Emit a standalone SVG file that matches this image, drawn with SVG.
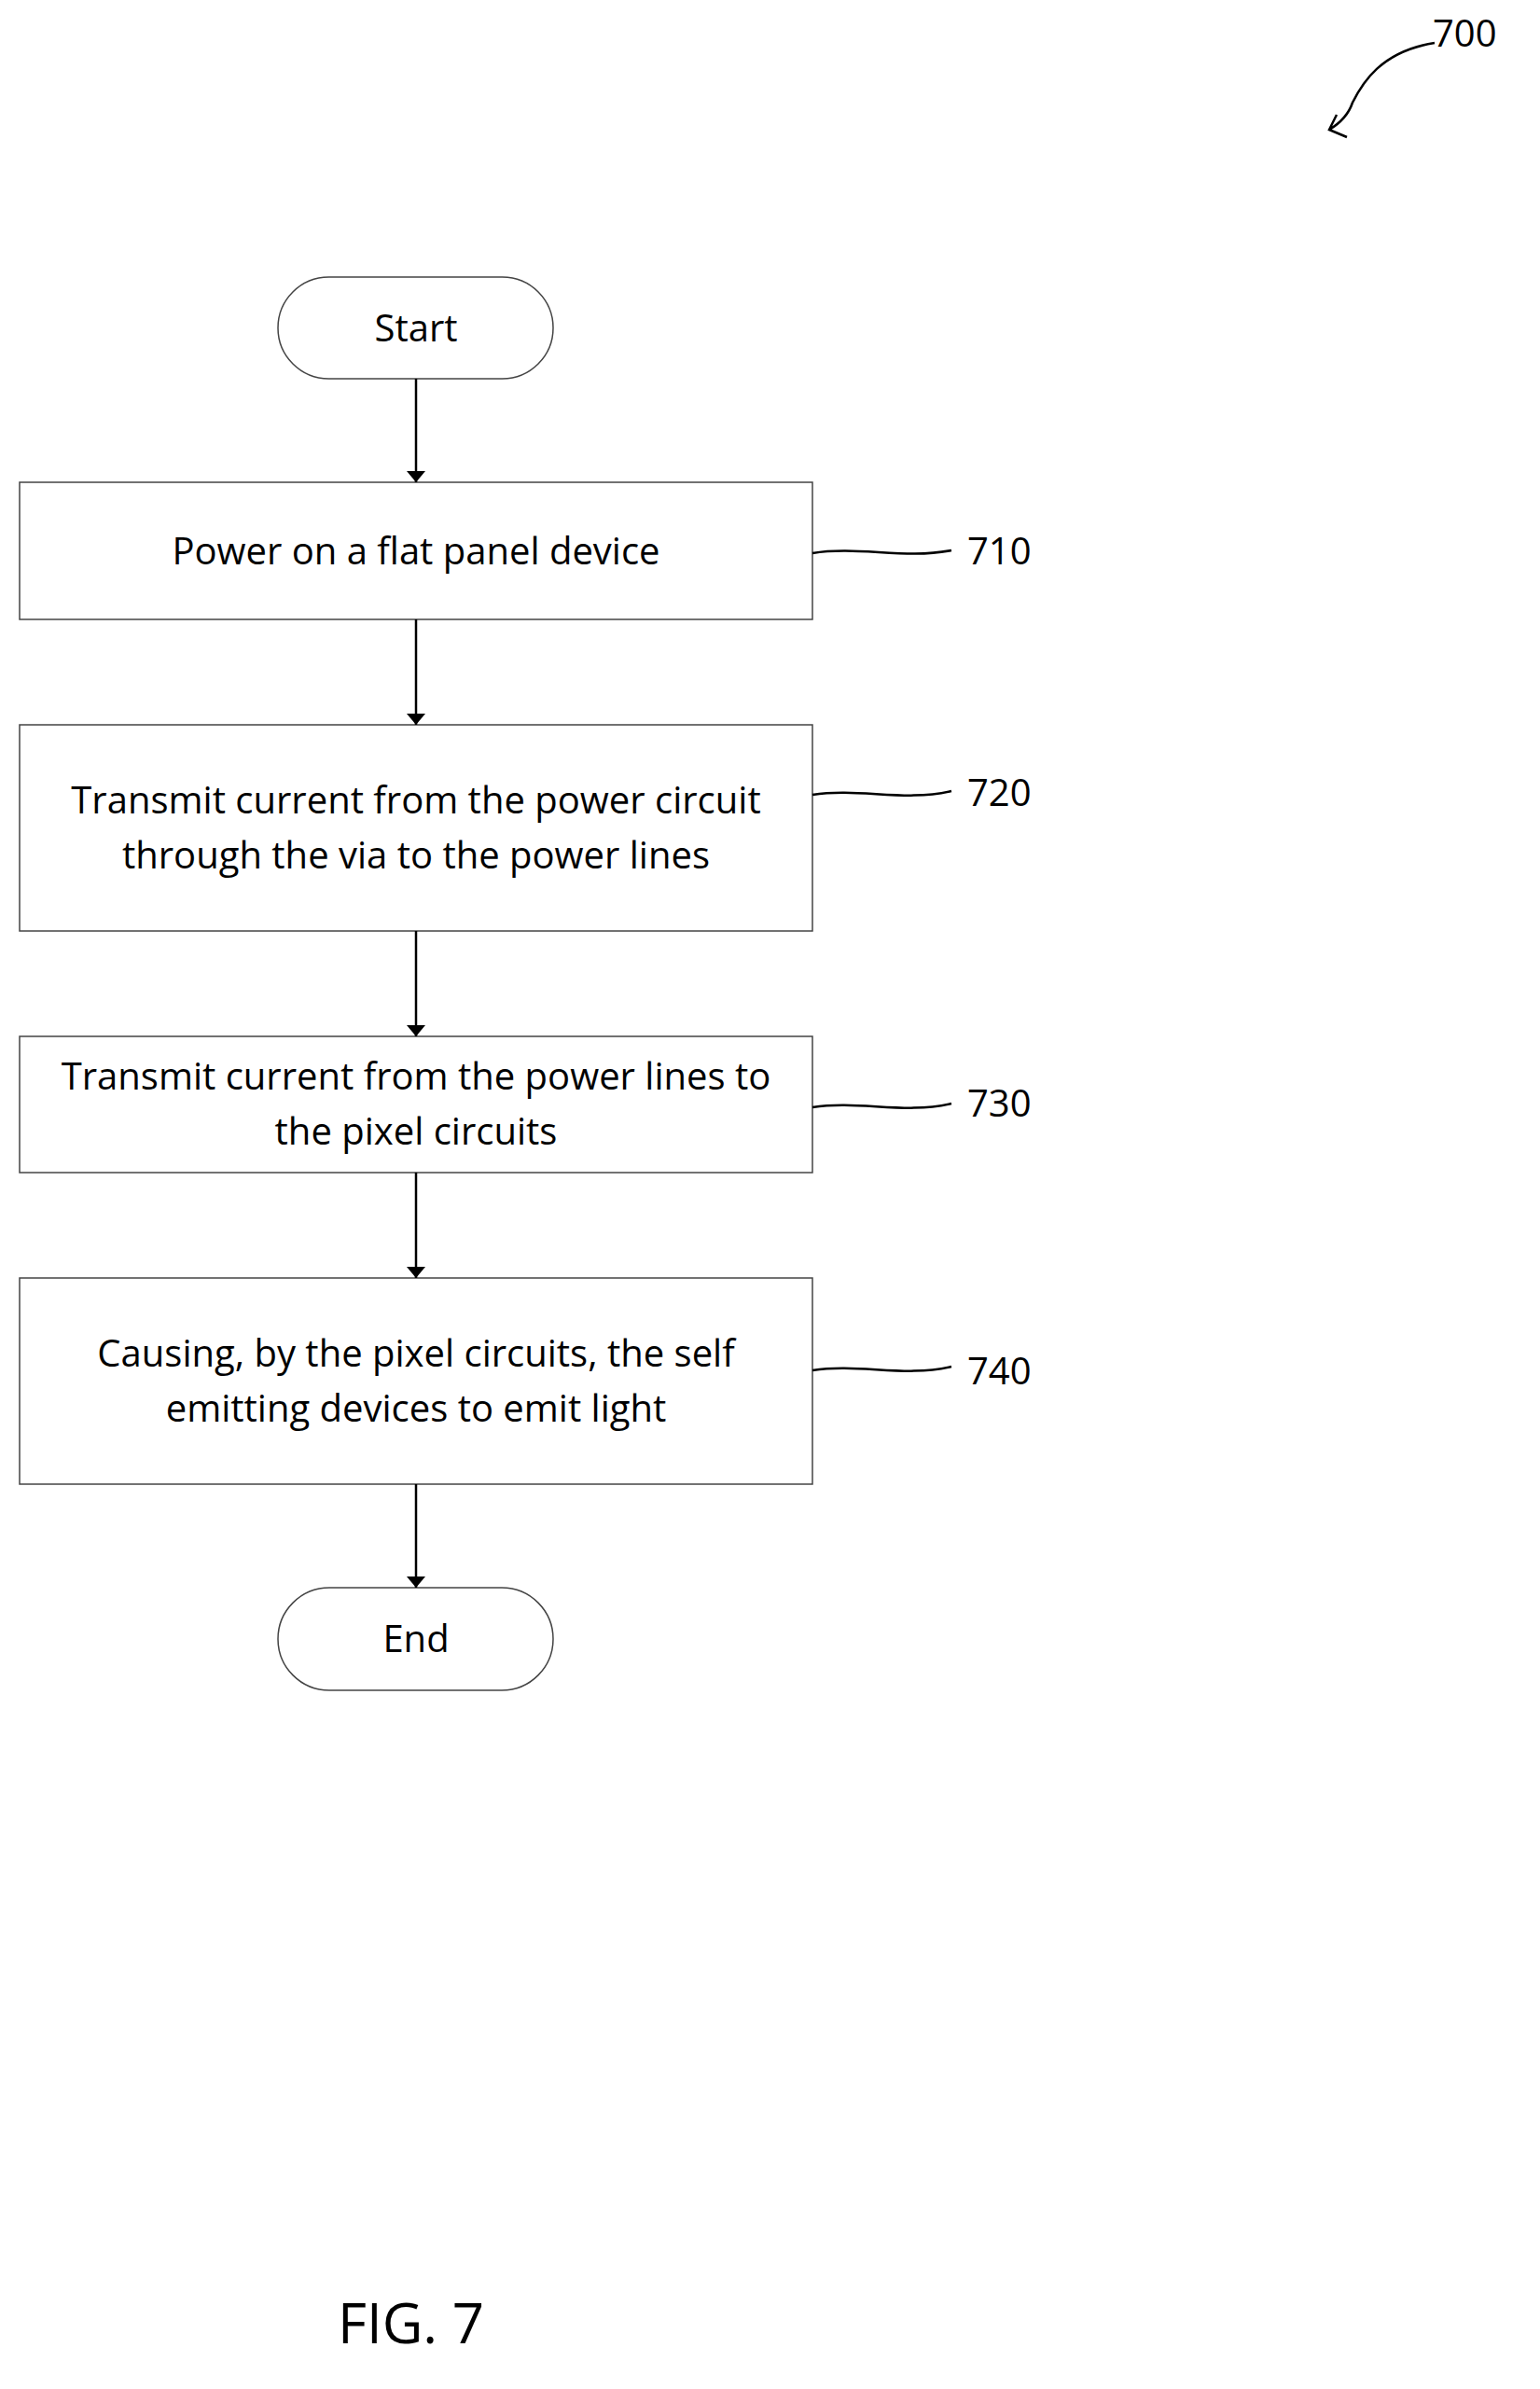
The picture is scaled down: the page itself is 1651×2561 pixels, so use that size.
<svg xmlns="http://www.w3.org/2000/svg" width="1651" height="2561" viewBox="0 0 1651 2561">
<style>
.b{fill:#fff;stroke:#444;stroke-width:1.5}
.t{font-family:"Open Sans","Liberation Sans",sans-serif;font-size:40px;fill:#000;text-anchor:middle}
.r{font-family:"Open Sans","Liberation Sans",sans-serif;font-size:40px;fill:#000}
.c{fill:none;stroke:#000;stroke-width:2.5}
</style>
<defs><marker id="a" markerWidth="12" markerHeight="20" refX="12" refY="10" orient="auto" markerUnits="userSpaceOnUse"><path d="M0,0 L12,10 L0,20 z" fill="#000"/></marker></defs>
<rect width="1651" height="2561" fill="#fff"/>
<g id="start"><rect class="b" x="298" y="297" width="295" height="109" rx="54.5"/><text class="t" x="446" y="366">Start</text></g>
<g id="n710"><rect class="b" x="21" y="517" width="850" height="147"/><text class="t" x="446" y="605">Power on a flat panel device</text><text class="r" x="1037" y="605">710</text></g>
<g id="n720"><rect class="b" x="21" y="777" width="850" height="221"/><text class="t" x="446" y="872">Transmit current from the power circuit</text><text class="t" x="446" y="931">through the via to the power lines</text><text class="r" x="1037" y="864">720</text></g>
<g id="n730"><rect class="b" x="21" y="1111" width="850" height="146"/><text class="t" x="446" y="1168">Transmit current from the power lines to</text><text class="t" x="446" y="1227">the pixel circuits</text><text class="r" x="1037" y="1197">730</text></g>
<g id="n740"><rect class="b" x="21" y="1370" width="850" height="221"/><text class="t" x="446" y="1465">Causing, by the pixel circuits, the self</text><text class="t" x="446" y="1524">emitting devices to emit light</text><text class="r" x="1037" y="1484">740</text></g>
<g id="end"><rect class="b" x="298" y="1702" width="295" height="110" rx="55"/><text class="t" x="446" y="1771">End</text></g>
<g id="connectors">
<line class="c" x1="446" y1="406" x2="446" y2="517" marker-end="url(#a)"/>
<line class="c" x1="446" y1="664" x2="446" y2="777" marker-end="url(#a)"/>
<line class="c" x1="446" y1="998" x2="446" y2="1111" marker-end="url(#a)"/>
<line class="c" x1="446" y1="1257" x2="446" y2="1370" marker-end="url(#a)"/>
<line class="c" x1="446" y1="1591" x2="446" y2="1702" marker-end="url(#a)"/>
<path class="c" d="M871,593 C920,585 970,600 1020,590"/>
<path class="c" d="M871,852 C920,844 970,860 1020,848"/>
<path class="c" d="M871,1187 C920,1179 970,1195 1020,1183"/>
<path class="c" d="M871,1469 C920,1461 970,1477 1020,1465"/>
<path class="c" d="M1538,46 C1480,55 1460,90 1450,110 C1445,125 1435,133 1425,139 M1433,123 L1425,139 L1444,147"/>
</g>
<text class="r" x="1536" y="50">700</text>
<text class="r" x="362" y="2512" style="font-size:60px">FIG. 7</text>
</svg>
